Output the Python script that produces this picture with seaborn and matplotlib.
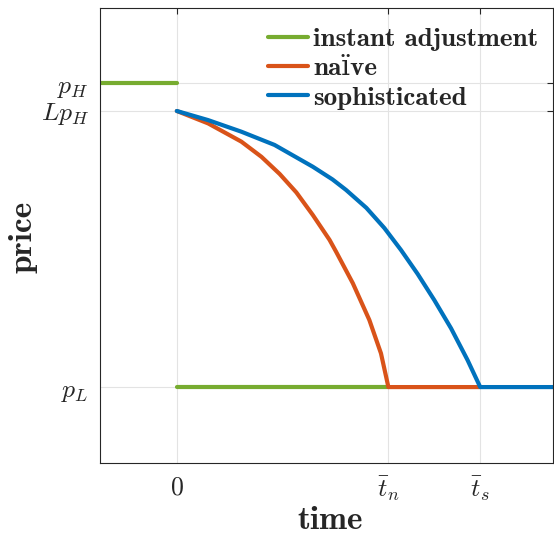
import matplotlib
matplotlib.use('Agg')
import matplotlib.pyplot as plt
import seaborn as sns
import pandas as pd

# price levels (p_L normalised to 0, L*p_H to 1)
P_H = 1.10
LP_H = 1.0
P_L = 0.0
# switch times (0, t_n normalised to 1, t_s)
T_N = 1.0
T_S = 1.434
X_MIN, X_MAX = -0.363, 1.778
Y_MIN, Y_MAX = -0.275, 1.373

# naive path
naive_t = [0.0, 0.148, 0.305, 0.400, 0.486, 0.565, 0.643, 0.722, 0.753,
           0.832, 0.910, 0.965, T_N, T_S]
naive_p = [LP_H, 0.955, 0.889, 0.834, 0.772, 0.705, 0.623, 0.533, 0.490,
           0.376, 0.243, 0.122, P_L, P_L]

# sophisticated path
soph_t = [0.0, 0.148, 0.305, 0.462, 0.643, 0.736, 0.800, 0.896, 0.981,
          1.060, 1.138, 1.217, 1.296, 1.374, T_S, X_MAX]
soph_p = [LP_H, 0.967, 0.925, 0.877, 0.798, 0.752, 0.714, 0.649, 0.576,
          0.496, 0.410, 0.315, 0.213, 0.098, P_L, P_L]

# instant adjustment: p_H before 0, p_L afterwards
inst_t = [X_MIN, 0.0, 0.0, T_N]
inst_p = [P_H, P_H, P_L, P_L]
inst_seg = [0, 0, 1, 1]

series = ['instant adjustment', 'naïve', 'sophisticated']
colors = ['#77AC30', '#D95319', '#0072BD']

df = pd.concat([
    pd.DataFrame({'t': inst_t, 'p': inst_p, 'series': series[0], 'seg': inst_seg}),
    pd.DataFrame({'t': naive_t, 'p': naive_p, 'series': series[1], 'seg': 0}),
    pd.DataFrame({'t': soph_t, 'p': soph_p, 'series': series[2], 'seg': 0}),
], ignore_index=True)
df['unit'] = df['series'] + df['seg'].astype(str)

sns.set_theme(style="white")
plt.rcParams['mathtext.fontset'] = 'cm'
plt.rcParams['axes.edgecolor'] = '#262626'
plt.rcParams['axes.linewidth'] = 0.8

fig = plt.figure(figsize=(5.54, 5.34), dpi=100)
ax = fig.add_axes([100 / 554, 71 / 534, 453 / 554, 455 / 534])

sns.lineplot(data=df, x='t', y='p', hue='series', hue_order=series,
             palette=colors, units='unit', estimator=None, sort=False,
             linewidth=3, ax=ax)
for ln in ax.get_lines():
    ln.set_solid_joinstyle('round')

ax.set_xlim(X_MIN, X_MAX)
ax.set_ylim(Y_MIN, Y_MAX)
ax.set_xticks([0, T_N, T_S])
ax.set_xticklabels([r'$0$', r'$\bar{t}_n$', r'$\bar{t}_s$'])
ax.set_yticks([P_L, LP_H, P_H])
ax.set_yticklabels([r'$p_L$', r'$Lp_H$', r'$p_H$'])
ax.tick_params(direction='in', length=4, width=0.8, color='#262626',
               labelsize=18.5, labelcolor='#262626',
               top=True, right=True, pad=8)
ax.grid(True, color='#e3e3e3', linewidth=0.8)
ax.set_axisbelow(True)
for s in ax.spines.values():
    s.set_visible(True)

lab_font = ['cmb10', 'DejaVu Serif']
ax.set_xlabel('time', family=lab_font, fontsize=24, color='#262626')
ax.set_ylabel('price', family=lab_font, fontsize=24, color='#262626')
ax.xaxis.set_label_coords(0.508, -0.095)
ax.yaxis.set_label_coords(-0.138, 0.497)

leg = ax.legend(loc='upper left', bbox_to_anchor=(0.371, 0.958),
                frameon=False, handlelength=1.48, handletextpad=0.19,
                labelspacing=0.2, borderpad=0, borderaxespad=0,
                prop={'family': lab_font, 'size': 19.5})
for line in leg.get_lines():
    line.set_linewidth(3)

fig.savefig('out.png', dpi=100)
